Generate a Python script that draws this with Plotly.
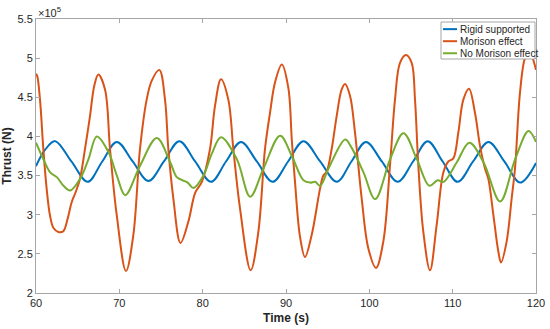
import numpy as np
import plotly.graph_objects as go

# ---- data (values in units of 1e5 N) ----
TIME_RIGID = [60.0, 61.1, 62.3, 64.25, 66.2, 67.95, 69.7, 71.6, 73.5, 75.35, 77.2, 79.1, 81.0,
              82.8, 84.6, 86.5, 88.4, 90.25, 92.1, 94.1, 96.1, 97.85, 99.6, 101.5, 103.4,
              105.25, 107.0, 108.8, 110.6, 112.45, 114.3, 116.2, 118.1, 120.0]
RIGID = [3.62, 3.83, 3.94, 3.68, 3.42, 3.68, 3.93, 3.68, 3.43, 3.68, 3.94, 3.68, 3.42,
         3.68, 3.93, 3.68, 3.42, 3.68, 3.94, 3.68, 3.42, 3.68, 3.93, 3.68, 3.42,
         3.68, 3.94, 3.68, 3.42, 3.68, 3.93, 3.68, 3.41, 3.66]

TIME_MORISON = [60.0, 60.15, 60.48, 60.88, 61.28, 61.68, 62.1, 62.68, 63.28, 63.8, 64.28, 64.8,
                65.28, 65.88, 66.48, 67.0, 67.48, 68.28, 68.88, 69.68, 70.8, 71.68, 72.48,
                73.28, 73.88, 74.8, 75.48, 75.88, 76.48, 77.34, 78.28, 79.1, 79.9, 80.88,
                81.48, 82.2, 83.08, 83.68, 84.48, 85.76, 86.68, 87.48, 88.08, 88.68, 89.5,
                90.28, 90.7, 91.08, 91.68, 92.28, 93.08, 94.08, 94.48, 94.88, 95.48, 96.08,
                96.68, 97.08, 97.68, 98.28, 99.08, 99.88, 100.8, 101.68, 102.48, 103.08,
                103.68, 104.4, 105.08, 105.48, 105.88, 106.48, 107.28, 108.08, 108.88,
                109.48, 110.08, 110.68, 111.28, 111.96, 112.68, 113.28, 113.88, 114.28,
                114.88, 115.48, 115.8, 116.48, 117.08, 117.48, 118.08, 118.68, 119.2,
                119.6, 120.0]
MORISON = [4.80, 4.77, 4.47, 3.84, 3.33, 2.99, 2.83, 2.78, 2.79, 2.95, 3.16, 3.30,
           3.46, 3.84, 4.26, 4.65, 4.79, 4.60, 3.84, 3.00, 2.28, 2.74, 3.84,
           4.47, 4.71, 4.85, 4.47, 3.84, 3.21, 2.64, 2.91, 3.28, 3.42, 3.84,
           4.39, 4.73, 4.47, 3.84, 3.08, 2.29, 2.78, 3.84, 4.30, 4.69, 4.92,
           4.62, 3.95, 3.42, 2.72, 2.46, 2.74, 3.33, 3.50, 3.55, 3.84, 4.26,
           4.60, 4.67, 4.52, 4.05, 3.21, 2.57, 2.32, 2.66, 3.63, 4.47,
           4.94, 5.04, 4.94, 4.47, 3.63, 2.78, 2.29, 2.87, 3.54,
           3.68, 3.72, 4.05, 4.47, 4.61, 4.30, 3.88, 3.59, 3.46,
           3.00, 2.53, 2.39, 2.66, 3.21, 3.59, 4.56, 5.00, 5.08,
           5.00, 4.85]

TIME_NO_MORISON = [60.0, 60.88, 61.7, 62.5, 63.3, 64.1, 65.3, 66.3, 67.3, 68.7, 69.7, 70.7,
                   72.5, 74.5, 76.1, 76.9, 77.6, 78.2, 78.9, 80.1, 81.1, 82.2, 84.1, 85.7,
                   87.3, 89.3, 90.7, 92.1, 92.9, 93.5, 94.1, 95.1, 97.1, 97.8, 99.3, 100.7,
                   102.5, 104.1, 105.7, 107.2, 108.2, 108.9, 110.5, 112.0, 113.7, 115.7,
                   117.5, 119.1, 120.0]
NO_MORISON = [3.92, 3.71, 3.54, 3.48, 3.37, 3.31, 3.46, 3.71, 4.00, 3.80, 3.50, 3.25,
              3.63, 3.98, 3.67, 3.48, 3.44, 3.41, 3.34, 3.50, 3.78, 3.99, 3.71, 3.23,
              3.59, 4.01, 3.75, 3.44, 3.41, 3.42, 3.37, 3.59, 3.96, 3.87, 3.54, 3.20,
              3.71, 4.04, 3.71, 3.37, 3.44, 3.42, 3.67, 3.92, 3.67, 3.17,
              3.71, 4.07, 3.93]

X_TICKS = [60, 70, 80, 90, 100, 110, 120]
Y_TICKS = [2.0, 2.5, 3.0, 3.5, 4.0, 4.5, 5.0, 5.5]
Y_TICK_LABELS = ["2", "2.5", "3", "3.5", "4", "4.5", "5", "5.5"]
SCALE = 1e5

SERIES = [
    ("Rigid supported", TIME_RIGID, RIGID, "#0072BD"),
    ("Morison effect", TIME_MORISON, MORISON, "#D95319"),
    ("No Morison effect", TIME_NO_MORISON, NO_MORISON, "#77AC30"),
]

FONT = "Liberation Sans, Arial, Helvetica, sans-serif"
AXIS_COLOR = "#a6a6a6"
TEXT_COLOR = "#262626"

fig = go.Figure()
for name, t, v, color in SERIES:
    fig.add_trace(go.Scatter(
        x=t, y=np.array(v) * SCALE, mode="lines", name=name,
        line=dict(color=color, width=2, shape="spline", smoothing=1),
        showlegend=False, hoverinfo="skip"))

fig.update_layout(
    width=550, height=329,
    margin=dict(l=36, r=14, t=19, b=36),
    paper_bgcolor="white", plot_bgcolor="white",
    font=dict(family=FONT, size=11, color=TEXT_COLOR),
    showlegend=False,
)
fig.update_xaxes(
    range=[60, 120], tickvals=X_TICKS, showgrid=False, zeroline=False,
    showline=True, linecolor=AXIS_COLOR, linewidth=1, mirror="ticks",
    ticks="inside", ticklen=4, tickcolor=AXIS_COLOR,
    tickfont=dict(size=11, color=TEXT_COLOR),
    title=dict(text="<b>Time (s)</b>", font=dict(size=12, color=TEXT_COLOR), standoff=5),
    automargin=False,
)
fig.update_yaxes(
    range=[2.0 * SCALE, 5.5 * SCALE], tickvals=[v * SCALE for v in Y_TICKS],
    ticktext=Y_TICK_LABELS, showgrid=False, zeroline=False,
    showline=True, linecolor=AXIS_COLOR, linewidth=1, mirror="ticks",
    ticks="inside", ticklen=4, tickcolor=AXIS_COLOR,
    tickfont=dict(size=11, color=TEXT_COLOR),
    title=dict(text="<b>Thrust (N)</b>", font=dict(size=12, color=TEXT_COLOR), standoff=5),
    automargin=False,
)

# exponent label
fig.add_annotation(text="×10<sup>5</sup>", xref="paper", yref="paper", x=0.0, y=1.0,
                   xanchor="left", yanchor="bottom", showarrow=False, yshift=-2,
                   font=dict(size=11, color=TEXT_COLOR))

# legend box (MATLAB style)
lx0, lx1, ly0, ly1 = 0.81, 0.998, 0.854, 0.989
fig.add_shape(type="rect", xref="paper", yref="paper", x0=lx0, x1=lx1, y0=ly0, y1=ly1,
              fillcolor="white", line=dict(color=AXIS_COLOR, width=1), layer="above")
rows = [0.963, 0.919, 0.875]
for (name, _, _, color), ry in zip(SERIES, rows):
    fig.add_shape(type="line", xref="paper", yref="paper", x0=0.814, x1=0.842, y0=ry, y1=ry,
                  line=dict(color=color, width=2), layer="above")
    fig.add_annotation(text=name, xref="paper", yref="paper", x=0.843, y=ry,
                       xanchor="left", yanchor="middle", showarrow=False,
                       font=dict(size=10, color=TEXT_COLOR))

fig.write_html("out.html", config={"displayModeBar": False},
               post_script="document.body.style.margin='0px';")
